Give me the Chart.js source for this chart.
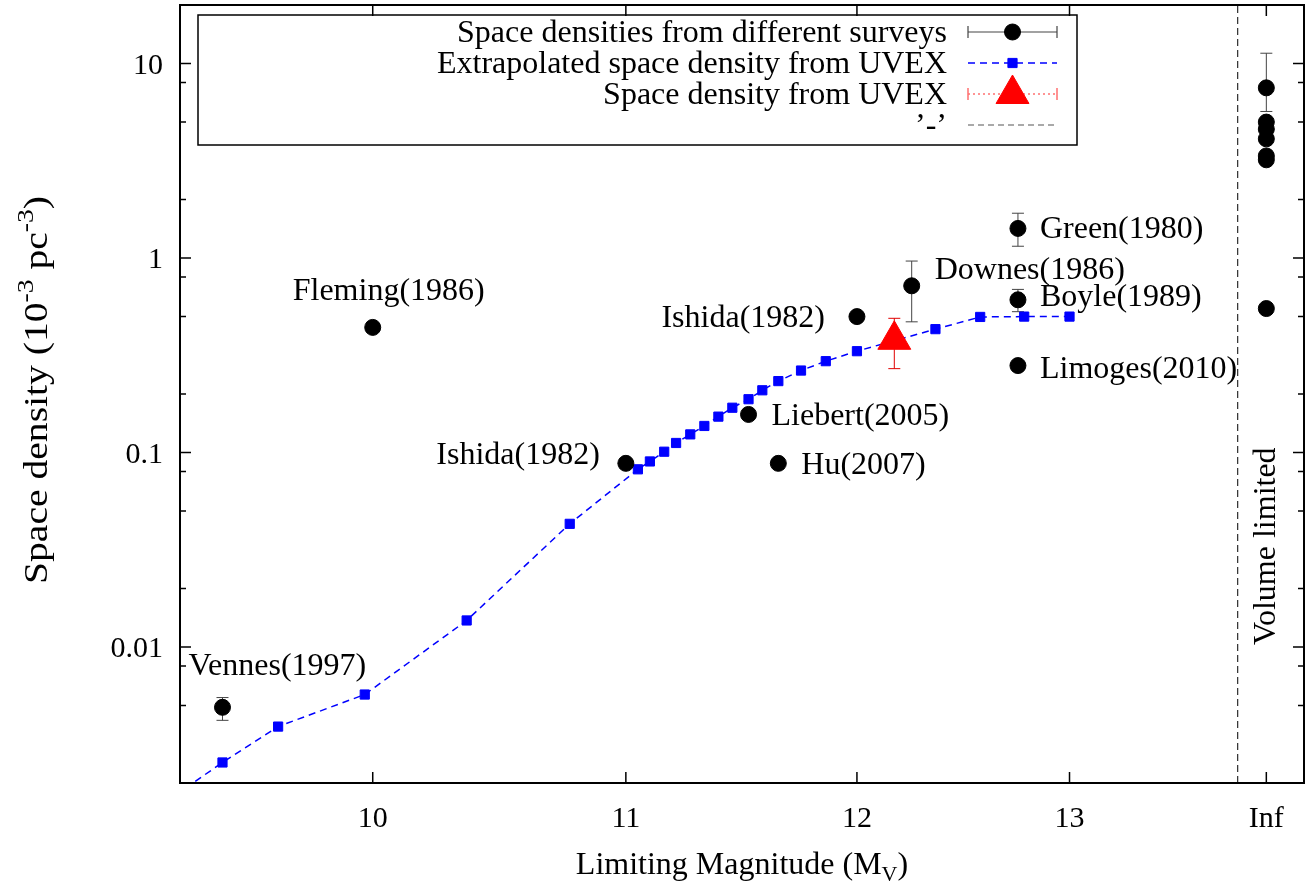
<!DOCTYPE html>
<html><head><meta charset="utf-8">
<script src="https://cdn.jsdelivr.net/npm/chart.js@4.4.1/dist/chart.umd.min.js"></script>
<style>html,body{margin:0;padding:0;background:#fff;} #wrap{width:1307px;height:882px;}</style>
</head><body><div id="wrap"><canvas id="c" width="1307" height="882"></canvas></div>
<script>
// ---------------- data ----------------
const surveyNames = ['Vennes(1997)','Fleming(1986)','Ishida(1982)','Ishida(1982)','Liebert(2005)','Hu(2007)','Downes(1986)','Green(1980)','Boyle(1989)','Limoges(2010)','','','','','','',''];
const surveyX = [9.45, 10.0, 11.0, 12.0, 11.52, 11.65, 12.25, 12.75, 12.75, 12.75, 14, 14, 14, 14, 14, 14, 14];
const surveyY = [0.0049, 0.44, 0.088, 0.50, 0.157, 0.088, 0.72, 1.42, 0.61, 0.28, 7.5, 5.0, 4.6, 4.1, 3.35, 3.2, 0.55];
const surveyErrLow  = [0.0042, null, null, null, null, null, 0.47, 1.15, 0.53, null, 5.67, null, null, null, null, null, null];
const surveyErrHigh = [0.0055, null, null, null, null, null, 0.965, 1.70, 0.69, null, 11.3, null, null, null, null, null, null];

const uvexX = [9.25, 9.45, 9.65, 9.97, 10.36, 10.77, 11.05, 11.10, 11.16, 11.21, 11.27, 11.33, 11.39, 11.45, 11.52, 11.58, 11.65, 11.75, 11.86, 12.0, 12.36, 12.57, 12.78, 13.0];
const uvexY = [0.0016, 0.00255, 0.0039, 0.0057, 0.0137, 0.043, 0.082, 0.090, 0.101, 0.112, 0.124, 0.137, 0.153, 0.170, 0.188, 0.209, 0.233, 0.264, 0.295, 0.332, 0.431, 0.498, 0.50, 0.50];

const uvexMeasX = [12.17];
const uvexMeasY = [0.38];
const uvexMeasErrLow = [0.27];
const uvexMeasErrHigh = [0.49];

const xRange = [9.3, 14.2];
const yRange = [0.002, 20];
const volumeLimitX = [13.85, 13.85];
const volumeLimitY = [0.002, 20];

const xTickValues = [10, 11, 12, 13, 14];
const xTickLabels = ['10', '11', '12', '13', 'Inf'];
const yTickValues = [0.01, 0.1, 1, 10];
const yTickLabels = ['0.01', '0.1', '1', '10'];
const yMinorTickValues = [0.005, 0.008, 0.02, 0.05, 0.08, 0.2, 0.5, 0.8, 2, 5, 8];

const seriesLabels = ['Space densities from different surveys', 'Extrapolated space density from UVEX', 'Space density from UVEX', '\u2019-\u2019'];
const volumeText = 'Volume limited';
const volumeTextPos = [14, 0.033];

// ---------------- styling / layout (not data) ----------------
const FONT = '"Liberation Serif", "Times New Roman", serif';
const labelPlacement = [
  {dx:-34, dy:-32, align:'left'},
  {dx:-80, dy:-27, align:'left'},
  {dx:-26, dy:1, align:'right'},
  {dx:-32, dy:10, align:'right'},
  {dx:23, dy:11, align:'left'},
  {dx:23, dy:11, align:'left'},
  {dx:23, dy:-7, align:'left'},
  {dx:22, dy:10, align:'left'},
  {dx:22, dy:6, align:'left'},
  {dx:22, dy:12, align:'left'}
];

function pts(xs, ys){ return xs.map((x,i)=>({x:x, y:ys[i]})); }

function drawRich(ctx, parts, x, y, size){
  const small = Math.round(size*0.7);
  let total = 0;
  const widths = parts.map(p=>{ ctx.font = (p[1]? small: size)+'px '+FONT; const w = ctx.measureText(p[0]).width; total += w; return w; });
  let cx = x - total/2;
  parts.forEach((p,i)=>{
    ctx.font = (p[1]? small: size)+'px '+FONT;
    const oy = p[1] === 1 ? -size*0.42 : (p[1] === -1 ? size*0.22 : 0);
    ctx.fillText(p[0], cx, y + oy);
    cx += widths[i];
  });
}

function errBar(ctx, xs, ys, x, lo, hi, cap){
  const X = xs.getPixelForValue(x), Y1 = ys.getPixelForValue(lo), Y2 = ys.getPixelForValue(hi);
  ctx.beginPath();
  ctx.moveTo(X, Y1); ctx.lineTo(X, Y2);
  ctx.moveTo(X-cap, Y1); ctx.lineTo(X+cap, Y1);
  ctx.moveTo(X-cap, Y2); ctx.lineTo(X+cap, Y2);
  ctx.stroke();
}

function noPad(s){ s.paddingTop = 0; s.paddingBottom = 0; s.paddingLeft = 0; s.paddingRight = 0; }

const customDraw = {
  id: 'customDraw',
  beforeDatasetsDraw(chart){
    const ctx = chart.ctx, xs = chart.scales.x, ys = chart.scales.y;
    ctx.save();
    ctx.lineWidth = 1;
    ctx.strokeStyle = '#444';
    surveyX.forEach((x,i)=>{ if (surveyErrLow[i] != null) errBar(ctx, xs, ys, x, surveyErrLow[i], surveyErrHigh[i], 6); });
    ctx.strokeStyle = '#e00000';
    uvexMeasX.forEach((x,i)=> errBar(ctx, xs, ys, x, uvexMeasErrLow[i], uvexMeasErrHigh[i], 6));
    ctx.restore();
  },
  afterDraw(chart){
    const ctx = chart.ctx, xs = chart.scales.x, ys = chart.scales.y, a = chart.chartArea;
    ctx.save();
    ctx.strokeStyle = '#000'; ctx.lineWidth = 2;
    ctx.strokeRect(a.left, a.top, a.right - a.left, a.bottom - a.top);
    ctx.lineWidth = 1.5;
    ctx.beginPath();
    xTickValues.forEach(v=>{ const X = xs.getPixelForValue(v); ctx.moveTo(X, a.bottom); ctx.lineTo(X, a.bottom-11); ctx.moveTo(X, a.top); ctx.lineTo(X, a.top+11); });
    yTickValues.forEach(v=>{ const Y = ys.getPixelForValue(v); ctx.moveTo(a.left, Y); ctx.lineTo(a.left+11, Y); ctx.moveTo(a.right, Y); ctx.lineTo(a.right-11, Y); });
    yMinorTickValues.forEach(v=>{ const Y = ys.getPixelForValue(v); ctx.moveTo(a.left, Y); ctx.lineTo(a.left+6, Y); ctx.moveTo(a.right, Y); ctx.lineTo(a.right-6, Y); });
    ctx.stroke();

    ctx.fillStyle = '#000';
    ctx.font = '30px '+FONT; ctx.textBaseline = 'alphabetic';
    ctx.textAlign = 'center';
    xTickValues.forEach((v,i)=> ctx.fillText(xTickLabels[i], xs.getPixelForValue(v), a.bottom + 44));
    ctx.textAlign = 'right';
    yTickValues.forEach((v,i)=> ctx.fillText(yTickLabels[i], a.left - 17, ys.getPixelForValue(v) + 10));

    ctx.font = '32px '+FONT; ctx.textBaseline = 'alphabetic';
    labelPlacement.forEach((p,i)=>{
      if (!surveyNames[i]) return;
      const X = xs.getPixelForValue(surveyX[i]), Y = ys.getPixelForValue(surveyY[i]);
      ctx.textAlign = p.align;
      ctx.fillText(surveyNames[i], X + p.dx, Y + p.dy);
    });
    ctx.save();
    ctx.translate(xs.getPixelForValue(volumeTextPos[0]), ys.getPixelForValue(volumeTextPos[1]));
    ctx.rotate(-Math.PI/2);
    ctx.textAlign = 'center'; ctx.textBaseline = 'middle';
    ctx.fillText(volumeText, 0, 0);
    ctx.restore();

    ctx.textAlign = 'left'; ctx.textBaseline = 'alphabetic';
    drawRich(ctx, [['Limiting Magnitude (M',0],['V',-1],[')',0]], (a.left+a.right)/2, 874, 32);
    ctx.save();
    ctx.translate(47, (a.top+a.bottom)/2 - 4);
    ctx.rotate(-Math.PI/2);
    ctx.scale(1.2, 1);
    drawRich(ctx, [['Space density (10',0],['-3',1],[' pc',0],['-3',1],[')',0]], 0, 0, 33);
    ctx.restore();

    const L = {left:198, top:15, right:1077, bottom:145, textRight:947, s0:968, s1:1057, rows:[42,73,104,135]};
    ctx.lineWidth = 1.5; ctx.strokeStyle = '#000';
    ctx.strokeRect(L.left, L.top, L.right-L.left, L.bottom-L.top);
    ctx.font = '32px '+FONT; ctx.textAlign = 'right'; ctx.textBaseline = 'alphabetic';
    chart.data.datasets.forEach((d,i)=>{
      const by = L.rows[i], cy = by - 10, cx = (L.s0+L.s1)/2;
      ctx.fillStyle = '#000';
      ctx.fillText(d.label, L.textRight, by);
      ctx.save();
      ctx.strokeStyle = d.legendLine; ctx.lineWidth = d.legendLineWidth || 1;
      ctx.setLineDash(d.legendDash || []);
      ctx.beginPath(); ctx.moveTo(L.s0, cy); ctx.lineTo(L.s1, cy); ctx.stroke();
      ctx.setLineDash([]);
      if (d.legendCaps){ ctx.beginPath(); ctx.moveTo(L.s0, cy-6); ctx.lineTo(L.s0, cy+6); ctx.moveTo(L.s1, cy-6); ctx.lineTo(L.s1, cy+6); ctx.stroke(); }
      if (d.pointStyle && d.pointRadius){
        ctx.fillStyle = d.backgroundColor; ctx.strokeStyle = d.borderColor; ctx.lineWidth = 1;
        Chart.helpers.drawPoint(ctx, {pointStyle: d.pointStyle, radius: d.pointRadius, borderWidth: 1, rotation: 0}, cx, cy);
      }
      ctx.restore();
    });
    ctx.restore();
  }
};

const chart = new Chart(document.getElementById('c'), {
  type: 'scatter',
  data: {
    datasets: [
      { label: seriesLabels[0], data: pts(surveyX, surveyY), pointStyle: 'circle', pointRadius: 8, pointBorderWidth: 1,
        backgroundColor: '#000', borderColor: '#000', showLine: false,
        legendLine: '#444', legendCaps: true, legendLineWidth: 1.2, order: 2 },
      { label: seriesLabels[1], data: pts(uvexX, uvexY), pointStyle: 'rect', pointRadius: 6.5, pointBorderWidth: 1,
        backgroundColor: '#0000ff', borderColor: '#0000ff', showLine: true, borderWidth: 1.5, borderDash: [7,5],
        legendLine: '#0000ff', legendDash: [7,5], legendLineWidth: 1.5, order: 3 },
      { label: seriesLabels[2], data: pts(uvexMeasX, uvexMeasY), pointStyle: 'triangle', pointRadius: 19, pointBorderWidth: 1,
        backgroundColor: '#ff0000', borderColor: '#ff0000', showLine: false,
        legendLine: '#ff7070', legendDash: [2,3], legendCaps: true, legendLineWidth: 1.5, order: 1 },
      { label: seriesLabels[3], data: pts(volumeLimitX, volumeLimitY), pointRadius: 0, showLine: true,
        borderColor: '#000', borderWidth: 1, borderDash: [7,4], backgroundColor: '#000',
        legendLine: '#555', legendDash: [6,4], legendLineWidth: 1.2, order: 4 }
    ]
  },
  options: {
    responsive: false, animation: false, devicePixelRatio: 1,
    layout: { autoPadding: false, padding: { left: 0, right: 3, top: 5, bottom: 0 } },
    plugins: { legend: { display: false }, tooltip: { enabled: false } },
    scales: {
      x: {
        type: 'logarithmic', min: xRange[0], max: xRange[1], bounds: 'data',
        grid: { display: false }, border: { display: false },
        afterBuildTicks: s => { s.ticks = xTickValues.map(v=>({value:v})); },
        afterFit: s => { s.height = 99; noPad(s); },
        ticks: { display: false, padding: 0, autoSkip: false, maxRotation: 0 }
      },
      y: {
        type: 'logarithmic', min: yRange[0], max: yRange[1], bounds: 'data',
        grid: { display: false }, border: { display: false },
        afterBuildTicks: s => { s.ticks = yTickValues.map(v=>({value:v})); },
        afterFit: s => { s.width = 180; noPad(s); },
        ticks: { display: false, padding: 0, autoSkip: false }
      }
    }
  },
  plugins: [customDraw]
});
</script>
</body></html>
